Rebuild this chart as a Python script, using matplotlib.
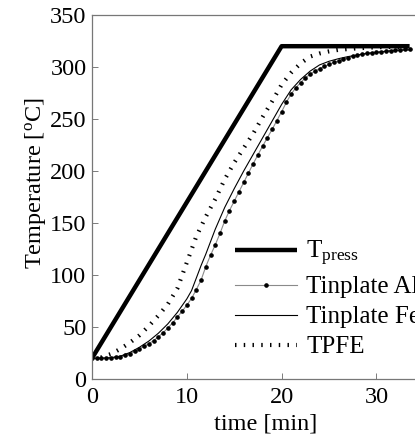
import matplotlib
matplotlib.use("Agg")
import matplotlib.pyplot as plt

plt.rcParams['font.family'] = ['Liberation Serif', 'DejaVu Serif']
plt.rcParams['mathtext.fontset'] = 'custom'
plt.rcParams['mathtext.rm'] = 'Liberation Serif'
plt.rcParams['mathtext.it'] = 'Liberation Serif:italic'

# Press temperature set-point (ramp then hold)
t_press = [0, 20, 33.5]
T_press = [20, 320, 320]

# Tinplate Al (measured every 0.5 min)
t_al = [0, 0.5, 1, 1.5, 2, 2.5, 3, 3.5, 4, 4.5, 5, 5.5, 6, 6.5, 7, 7.5, 8, 8.5,
        9, 9.5, 10, 10.5, 11, 11.5, 12, 12.5, 13, 13.5, 14, 14.5, 15, 15.5, 16,
        16.5, 17, 17.5, 18, 18.5, 19, 19.5, 20, 20.5, 21, 21.5, 22, 22.5, 23,
        23.5, 24, 24.5, 25, 25.5, 26, 26.5, 27, 27.5, 28, 28.5, 29, 29.5, 30,
        30.5, 31, 31.5, 32, 32.5, 33, 33.5]
T_al = [20, 20, 20, 20, 20.3, 20.8, 21.5, 22.8, 24.5, 26.5, 29, 31.5, 34, 37,
        40.5, 44.5, 49, 54, 59.5, 65, 71, 77.5, 86, 95, 108, 119, 129, 140, 152,
        162, 171, 180, 189, 198, 207, 215.5, 224, 232, 240, 248.5, 257, 266,
        274, 280, 285, 289.5, 293, 296, 298.5, 300.5, 302.5, 304.5, 306, 307.5,
        309, 310.5, 311.5, 312.5, 313.2, 313.8, 314.3, 314.8, 315.3, 315.7,
        316.1, 316.5, 316.9, 317.2]

# Tinplate Fe
t_fe = [0, 1, 2, 3, 4, 5, 6, 7, 8, 9, 10, 10.5, 11, 11.5, 12, 13, 14, 15, 16,
        17, 18, 19, 20, 21, 22, 23, 24, 25, 26, 27, 28, 29, 30, 31, 32, 33.5]
T_fe = [20, 20, 20.5, 22, 25.5, 30.5, 36.5, 44, 53, 64, 77, 85, 97, 109, 120,
        144, 165, 183, 200, 216, 232, 248, 264, 278, 288, 296, 302, 305.5, 308,
        310, 311.5, 313, 314, 315, 316, 316.5]

# TPFE
t_tpfe = [0, 1, 2, 3, 4, 5, 6, 7, 8, 9, 10, 11, 12, 13, 14, 15, 16, 17, 18,
          19, 20, 21, 22, 23, 24, 25, 26, 28, 30, 33.5]
T_tpfe = [20, 21, 24, 29, 35, 42, 51, 61, 72, 87, 112, 137, 156, 173, 192, 208,
          222, 236, 252, 267, 283, 294.5, 303.5, 310, 313, 315, 316.5, 318, 319,
          319.5]

xticks = [0, 10, 20, 30]
yticks = [0, 50, 100, 150, 200, 250, 300, 350]

W, H = 415, 437
fig = plt.figure(figsize=(W / 100, H / 100), dpi=100)
ax = fig.add_axes([92 / W, (H - 379) / H, 347 / W, 364 / H])

ax.plot(t_press, T_press, color='black', lw=3.2, solid_capstyle='butt',
        label=r'T$_{\rm press}$')
ax.plot(t_al, T_al, color='#8a8a8a', lw=0.8, marker='o', ms=2.3,
        mec='black', mfc='black', label='Tinplate Al')
ax.plot(t_fe, T_fe, color='black', lw=0.8, label='Tinplate Fe')
ax.plot(t_tpfe, T_tpfe, color='black', lw=3.0, dash_capstyle='butt',
        linestyle=(0, (0.35, 1.75)), label='TPFE')

ax.set_xlim(0, 36.6)
ax.set_ylim(0, 350)
ax.set_xticks(xticks)
ax.set_yticks(yticks)
ax.tick_params(direction='in', length=4, width=0.6, labelsize=17.5,
               colors='#666666', labelcolor='black')
ax.tick_params(axis='y', pad=4)
ax.tick_params(axis='x', pad=6)
for s in ax.spines.values():
    s.set_color('#777777')
    s.set_linewidth(0.9)

ax.set_xlabel('time [min]', fontsize=17.5, labelpad=4)
ax.set_ylabel(r'Temperature [$^{\rm o}$C]', fontsize=17.5)
ax.yaxis.set_label_coords(-0.128, 0.538)

ax.legend(loc='upper left', bbox_to_anchor=(0.412, 0.384), frameon=False,
          fontsize=18, handlelength=2.5, handletextpad=0.35,
          labelspacing=0.3, borderaxespad=0, borderpad=0)

fig.savefig('out.png', dpi=100)
